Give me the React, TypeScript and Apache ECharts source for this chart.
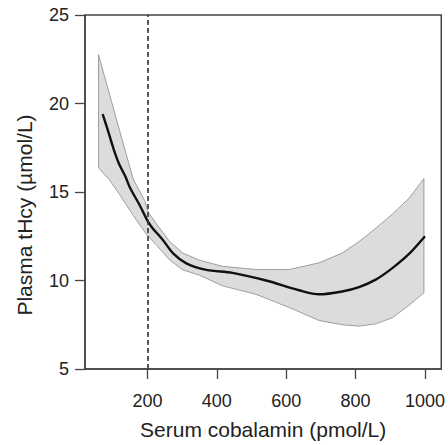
import React, { useEffect, useRef } from "react";
import * as echarts from "echarts";

// Fitted curve (serum cobalamin vs plasma tHcy)
const lineX = [71, 88, 103, 118, 137, 149, 178, 202, 216, 245, 274, 312, 370, 445, 542, 637, 695, 761, 810, 858, 906, 954, 1000];
const lineY = [19.4, 18.35, 17.4, 16.6, 15.85, 15.27, 14.24, 13.31, 12.93, 12.28, 11.53, 10.97, 10.6, 10.43, 10.0, 9.45, 9.22, 9.38, 9.63, 10.05, 10.7, 11.5, 12.5];

// Confidence band
const bandX = [59, 90, 120, 159, 192, 202, 226, 264, 302, 350, 416, 513, 609, 695, 761, 810, 858, 906, 954, 997];
const bandUpper = [22.76, 20.57, 18.45, 15.73, 14.52, 13.87, 13.2, 12.2, 11.55, 11.15, 10.8, 10.62, 10.62, 11.0, 11.55, 12.2, 12.95, 13.75, 14.65, 15.76];
const bandLower = [16.37, 15.7, 14.85, 13.68, 12.75, 12.5, 12.0, 11.16, 10.6, 10.3, 9.7, 9.22, 8.47, 7.74, 7.5, 7.42, 7.55, 7.9, 8.6, 9.31];

// Axis ticks
const xTicks = [200, 400, 600, 800, 1000];
const yTicks = [5, 10, 15, 20, 25];
const cutoff = 200;

const FONT = "'Liberation Sans', Arial, Helvetica, sans-serif";
const AXIS_COLOR = "#444";

export default function App() {
  const ref = useRef<HTMLDivElement>(null);
  useEffect(() => {
    if (!ref.current) return;
    const chart = echarts.init(ref.current, undefined, { renderer: "svg" });
    const bandData = bandX.map((x, i) => [x, bandUpper[i], bandLower[i]]);
    chart.setOption({
      animation: false,
      backgroundColor: "#fff",
      grid: {
        left: 85,
        right: 6,
        top: 15,
        bottom: 73,
        show: true,
        borderColor: AXIS_COLOR,
        borderWidth: 1.5,
      },
      xAxis: {
        type: "value",
        min: 20,
        max: 1047,
        name: "Serum cobalamin (pmol/L)",
        nameLocation: "middle",
        nameGap: 50,
        nameTextStyle: { fontFamily: FONT, fontSize: 21, color: "#222" },
        axisLine: { show: true, lineStyle: { color: AXIS_COLOR, width: 1.5 } },
        axisTick: { show: true, length: 10, customValues: xTicks, lineStyle: { color: AXIS_COLOR, width: 1.3 } },
        axisLabel: {
          customValues: xTicks,
          margin: 23,
          fontFamily: FONT,
          fontSize: 18,
          color: "#222",
          formatter: (v: number) => String(v),
        },
        splitLine: { show: false },
      },
      yAxis: {
        type: "value",
        min: 5,
        max: 25,
        interval: 5,
        name: "Plasma tHcy (\u00b5mol/L)",
        nameLocation: "middle",
        nameRotate: 90,
        nameGap: 50,
        nameTextStyle: { fontFamily: FONT, fontSize: 21, color: "#222", padding: [0, 46, 0, 0] },
        axisLine: { show: true, lineStyle: { color: AXIS_COLOR, width: 1.5 } },
        axisTick: { show: true, length: 10, customValues: yTicks, lineStyle: { color: AXIS_COLOR, width: 1.3 } },
        axisLabel: { customValues: yTicks, margin: 16, fontFamily: FONT, fontSize: 18, color: "#222" },
        splitLine: { show: false },
      },
      series: [
        {
          type: "custom",
          name: "band",
          silent: true,
          z: 1,
          data: bandData,
          encode: { x: 0, y: [1, 2] },
          renderItem: (params: any, api: any) => {
            if (params.dataIndex !== 0) return null;
            const upperPts = bandData.map((d) => api.coord([d[0], d[1]]));
            const lowerPts = bandData.map((d) => api.coord([d[0], d[2]])).reverse();
            return {
              type: "polygon",
              shape: { points: upperPts.concat(lowerPts) },
              style: { fill: "#dcdcdc", stroke: "#8a8a8a", lineWidth: 0.8 },
            };
          },
        },
        {
          type: "line",
          name: "fit",
          data: lineX.map((x, i) => [x, lineY[i]]),
          symbol: "none",
          smooth: 0.3,
          lineStyle: { color: "#111", width: 2.4 },
          z: 3,
          markLine: {
            silent: true,
            symbol: "none",
            label: { show: false },
            lineStyle: { color: "#333", width: 1.6, type: [5, 3] },
            data: [{ xAxis: cutoff }],
          },
        },
      ],
    });
    return () => chart.dispose();
  }, []);
  return <div ref={ref} style={{ width: 448, height: 445, position: "absolute", left: 0, top: 0 }} />;
}
